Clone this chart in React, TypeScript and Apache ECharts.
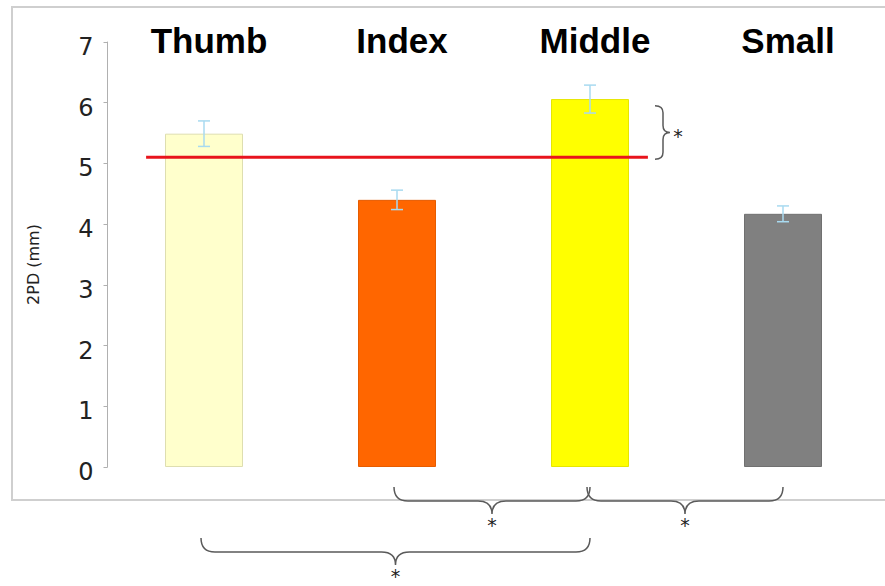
import React, { useEffect, useRef } from "react";
import * as echarts from "echarts";

const categories = ["Thumb", "Index", "Middle", "Small"];
const means = [5.49, 4.4, 6.06, 4.17];
const errors = [0.21, 0.16, 0.23, 0.13];
const barColors = ["#ffffcc", "#ff6600", "#ffff00", "#808080"];
const barBorders = ["#dedeb0", "#e65c00", "#e6e600", "#707070"];
const refValue = 5.1;
const refSpan = [0.2, 2.8];
// pairs of compared categories [from, to, row]
const comparisons = [
  [1, 2, 1],
  [2, 3, 1],
  [0, 2, 2],
];
// Middle vs reference line
const refComparison = [2, refValue, 6.0];

export default function App() {
  const ref = useRef<HTMLDivElement>(null);
  useEffect(() => {
    if (!ref.current) return;
    const chart = echarts.init(ref.current, null, { renderer: "svg" });

    const starStyle = { fontSize: 19, lineHeight: 12, fontFamily: "DejaVu Sans", fill: "#222" };

    const braceRender = (params: any, api: any) => {
      const a = api.coord([api.value(0), 0]);
      const b = api.coord([api.value(1), 0]);
      const row = api.value(2);
      const yLine = a[1] + (row === 1 ? 34 : 85);
      const yTop = yLine - 14;
      const yTip = yLine + 13;
      const x1 = a[0] - 3;
      const x2 = b[0];
      const xm = (x1 + x2) / 2;
      const r = 14;
      const d =
        `M${x1},${yTop} Q${x1},${yLine} ${x1 + r},${yLine} L${xm - r},${yLine} ` +
        `Q${xm},${yLine} ${xm},${yTip} Q${xm},${yLine} ${xm + r},${yLine} ` +
        `L${x2 - r},${yLine} Q${x2},${yLine} ${x2},${yTop}`;
      return {
        type: "group",
        children: [
          { type: "path", shape: { pathData: d }, style: { fill: "none", stroke: "#5a5a5a", lineWidth: 1.5 } },
          {
            type: "text",
            style: { ...starStyle, text: "*", x: xm, y: yTip + 11, align: "center", verticalAlign: "middle" },
          },
        ],
      };
    };

    const vBraceRender = (params: any, api: any) => {
      const bot = api.coord([api.value(0), api.value(1)]);
      const top = api.coord([api.value(0), api.value(2)]);
      const xL = bot[0] + 65;
      const xLine = xL + 8;
      const xTip = xL + 15;
      const yTop = top[1] + 3;
      const yBot = bot[1] + 2;
      const ym = (yTop + yBot) / 2;
      const r = 7;
      const d =
        `M${xL},${yTop} Q${xLine},${yTop} ${xLine},${yTop + r} L${xLine},${ym - r} ` +
        `Q${xLine},${ym} ${xTip},${ym} Q${xLine},${ym} ${xLine},${ym + r} ` +
        `L${xLine},${yBot - r} Q${xLine},${yBot} ${xL},${yBot}`;
      return {
        type: "group",
        children: [
          { type: "path", shape: { pathData: d }, style: { fill: "none", stroke: "#5a5a5a", lineWidth: 1.5 } },
          {
            type: "text",
            style: { ...starStyle, text: "*", x: xTip + 8, y: ym + 3, align: "center", verticalAlign: "middle" },
          },
        ],
      };
    };

    const errRender = (params: any, api: any) => {
      const i = api.value(0);
      const m = api.value(1);
      const e = api.value(2);
      const hi = api.coord([i, m + e]);
      const lo = api.coord([i, m - e]);
      const w = 6;
      const st = { stroke: "#a8daf0", lineWidth: 1.5 };
      return {
        type: "group",
        children: [
          { type: "line", shape: { x1: hi[0], y1: hi[1], x2: lo[0], y2: lo[1] }, style: st },
          { type: "line", shape: { x1: hi[0] - w, y1: hi[1], x2: hi[0] + w, y2: hi[1] }, style: st },
          { type: "line", shape: { x1: lo[0] - w, y1: lo[1], x2: lo[0] + w, y2: lo[1] }, style: st },
        ],
      };
    };

    chart.setOption({
      animation: false,
      backgroundColor: "#ffffff",
      grid: { left: 107.5, right: 5.5, top: 42, bottom: 119, containLabel: false },
      graphic: [
        {
          type: "rect",
          z: -10,
          shape: { x: 12, y: 7, width: 900, height: 493 },
          style: { fill: "none", stroke: "#cfcfcf", lineWidth: 2 },
        },
      ],
      xAxis: [
        {
          type: "category",
          position: "top",
          data: categories,
          axisLine: { show: false },
          axisTick: { show: false },
          axisLabel: {
            interval: 0,
            margin: 2,
            verticalAlign: "middle",
            padding: [0, 0, 0, 10],
            fontFamily: "Liberation Sans",
            fontWeight: "bold",
            fontSize: 35,
            color: "#000",
          },
        },
        { type: "value", min: 0, max: 4, show: false },
      ],
      yAxis: {
        type: "value",
        min: 0,
        max: 7,
        interval: 1,
        name: "2PD (mm)",
        nameLocation: "middle",
        nameGap: 66,
        nameTextStyle: { fontFamily: "DejaVu Sans", fontSize: 16, color: "#222", padding: [0, 20, 0, 0] },
        splitLine: { show: false },
        axisLine: { show: true, lineStyle: { color: "#b0b0b0", width: 1 } },
        axisTick: { show: true, length: 4, lineStyle: { color: "#b0b0b0" } },
        axisLabel: {
          margin: 14,
          formatter: "{a|{value}}",
          rich: { a: { fontFamily: "DejaVu Sans", fontSize: 24, color: "#222", padding: [10, 0, 0, 0] } },
        },
      },
      series: [
        {
          type: "bar",
          xAxisIndex: 0,
          barWidth: 78,
          data: means.map((v, i) => ({
            value: v,
            itemStyle: { color: barColors[i], borderColor: barBorders[i], borderWidth: 1 },
          })),
        },
        {
          type: "custom",
          xAxisIndex: 0,
          renderItem: errRender,
          data: categories.map((c, i) => [i, means[i], errors[i]]),
          z: 5,
        },
        {
          type: "line",
          xAxisIndex: 1,
          symbol: "none",
          lineStyle: { color: "#e8141c", width: 3 },
          data: [
            [refSpan[0], refValue],
            [refSpan[1], refValue],
          ],
          z: 6,
        },
        {
          type: "custom",
          xAxisIndex: 1,
          clip: false,
          renderItem: braceRender,
          data: comparisons.map(([a, b, row]) => [a + 0.5, b + 0.5, row]),
        },
        {
          type: "custom",
          xAxisIndex: 1,
          clip: false,
          renderItem: vBraceRender,
          data: [[refComparison[0] + 0.5, refComparison[1], refComparison[2]]],
        },
      ],
    });
    return () => chart.dispose();
  }, []);
  return <div ref={ref} style={{ position: "fixed", left: 0, top: 0, width: 885, height: 586 }} />;
}
